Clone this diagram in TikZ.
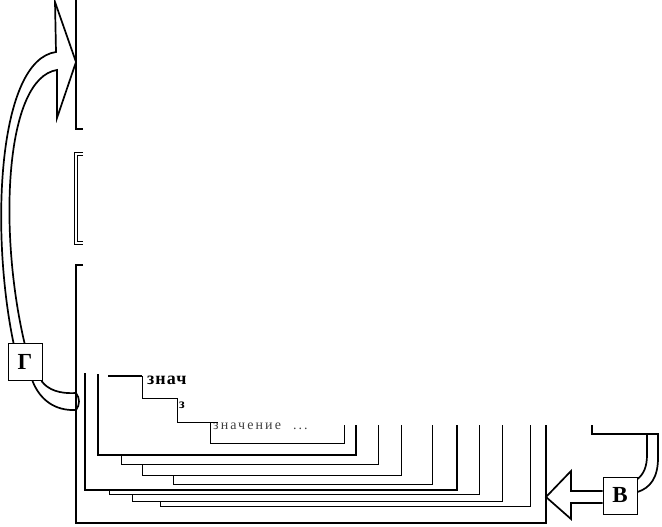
\documentclass[tikz,border=0pt]{standalone}
\usepackage{fontspec}
\setmainfont{Liberation Serif}
\usetikzlibrary{positioning}

\begin{document}
\begin{tikzpicture}[x=1pt,y=-1pt,
        box/.style={draw, line width=1pt, minimum width=34pt, minimum height=37pt, inner sep=0pt, font=\bfseries\fontsize{23}{23}\selectfont},
        arr/.style={draw, line width=1.7pt, line join=miter},
        brk/.style={draw, line width=0.9pt},
        mainbrk/.style={draw, line width=1.7pt},
        lbl/.style={anchor=west, inner sep=0pt}]
        \useasboundingbox (0,0) rectangle (662,527);
        \node[box] (n1) at (25,362) {Г};
        \node[box] (n2) at (620,495.5) {В};
        \node[lbl, font=\bfseries\fontsize{18}{18}\selectfont\addfontfeature{LetterSpace=6}] (n3) at (147,380) {знач};
        \node[lbl, font=\bfseries\fontsize{14}{14}\selectfont] (n4) at (179,405) {з};
        \node[lbl, font=\fontsize{14}{14}\selectfont\addfontfeature{LetterSpace=15}, text=black!75] (n5) at (213,426) {значение\hspace{12pt}...};
        \draw[mainbrk] (76,0) -- (76,129) -- (83,129);
        \draw[brk] (83,152) -| (74,244) -- (83,244);
        \draw[brk] (83,155) -| (77,241) -- (83,241);
        \draw[mainbrk] (83,265) -| (76,523) -- (546,523) -- (546,425);
        \draw[brk, line width=2.2pt] (98,374) |- (356,455) -- (356,425);
        \draw[brk] (121,455) |- (378,464) -- (378,425);
        \draw[brk] (142,465) |- (401,475) -- (401,425);
        \draw[brk] (173,476) |- (432,484) -- (432,425);
        \draw[brk, line width=1.4pt] (85,373) |- (457,490) -- (457,425);
        \draw[brk] (109,490) |- (479,494) -- (479,425);
        \draw[brk] (132,495) |- (502,501) -- (502,425);
        \draw[brk] (160,502) |- (530,506) -- (530,425);
        \draw[line width=2.5pt] (108,376) -- (142,376);
        \draw[brk] (142,376) |- (177,398) |- (218,422);
        \draw[brk] (210,422) |- (344,443) -- (344,425);
        \draw[arr] ([xshift=6pt]n1.north west) .. controls (-10,230) and (-2,60) .. (56,52) -- (55,2) -- (76,62) -- (57,118) -- (57,70) .. controls (5,78) and (-2,230) .. ([xshift=17pt]n1.north west);
        \draw[arr] ([xshift=25pt]n1.south west) .. controls (40,400) and (55,411) .. (76,410) .. controls (80,405) and (80,398) .. (76,393) .. controls (60,394) and (48,390) .. ([xshift=-1pt]n1.south east);
        \draw[arr] ([yshift=4.5pt]n2.west) -- (571,491) -- (571,471) -- (546,497) -- (571,519) -- (571,503) -- ([yshift=-7.5pt]n2.west);
        \draw[arr] ([yshift=3.5pt]n2.east) .. controls (650,488) and (658,478) .. (658,458) -- (658,434) -- (592,434) -- (592,425);
        \draw[arr] ([yshift=16.5pt]n2.east) .. controls (644,474) and (647,466) .. (647,455) -- (647,434);
\end{tikzpicture}
\end{document}
